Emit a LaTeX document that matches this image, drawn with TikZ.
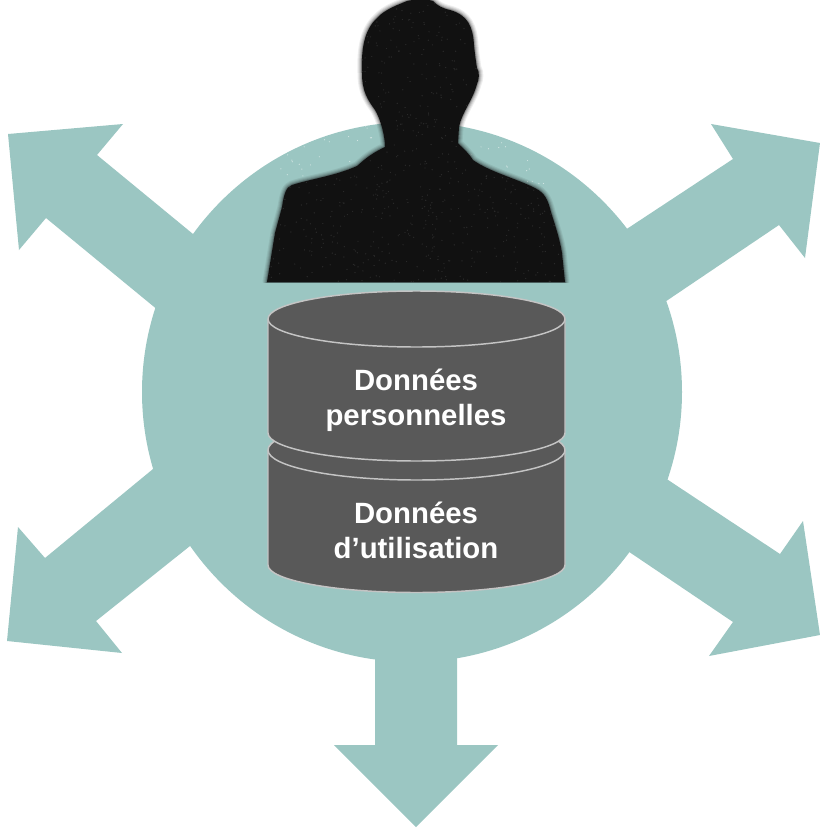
\documentclass[tikz,border=0pt]{standalone}
\usepackage{fontspec}
\setmainfont{Liberation Sans}
\definecolor{teal}{HTML}{9BC6C2}
\definecolor{cyl}{HTML}{595959}
\definecolor{rim}{HTML}{C4C4C4}
\definecolor{sil}{HTML}{111111}
\tikzset{
  bigarrow/.style={fill=teal,draw=none},
  cylbody/.style={fill=cyl,draw=rim,line width=1.1pt,line join=round},
  cyllabel/.style={text=white,font=\fontsize{22}{26.2}\selectfont\bfseries,align=center,inner sep=0pt},
}
\newcommand{\silpath}{(267,282) -- (275,233) -- (282,207) .. controls (284,194) and (286,187) .. (292,185)
 .. controls (310,179) and (335,176) .. (357,166) .. controls (362,162) and (368,155) .. (385,147)
 .. controls (385,135) and (380,118) .. (375,110) .. controls (368,100) and (362,92) .. (362,73)
 .. controls (361,50) and (364,30) .. (377,18) .. controls (385,9) and (400,4) .. (407,1)
 .. controls (415,-1) and (428,-1) .. (433,1) .. controls (438,6) and (442,8) .. (450,10) .. controls (468,15) and (473,27) .. (474,45)
 .. controls (475,55) and (476,62) .. (477,68) .. controls (480,72) and (479,80) .. (477,84)
 .. controls (473,100) and (462,112) .. (459,127) -- (458,143) .. controls (465,150) and (470,155) .. (473,160)
 .. controls (490,172) and (515,178) .. (535,188) .. controls (545,193) and (548,200) .. (551,212)
 .. controls (556,228) and (560,240) .. (562,253) -- (565,282) -- cycle}
\begin{document}
\begin{tikzpicture}[x=0.75pt,y=-0.75pt]
\useasboundingbox (0,0) rectangle (820,829);
% arrows
\fill[bigarrow] (97,155) -- (123,124) -- (8,134) -- (19,250) -- (46,218) -- (170,320) -- (210,250) -- (193,234) -- cycle;
\fill[bigarrow] (733,159) -- (711,124) -- (820,143) -- (805,258) -- (779,225) -- (650,312) -- (610,240) -- cycle;
\fill[bigarrow] (45,558) -- (18,527) -- (7,641) -- (122,653) -- (96,621) -- (210,530) -- (170,455) -- cycle;
\fill[bigarrow] (780,554) -- (803,521) -- (820,635) -- (709,656) -- (733,622) -- (610,539) -- (650,468) -- cycle;
\fill[bigarrow] (375,640) -- (375,745) -- (334,745) -- (416,827) -- (498,745) -- (457,745) -- (457,640) -- cycle;
\fill[teal] (412,392) circle[x radius=270,y radius=270];
% speckle of the photo's background over the circle
\pgfmathsetseed{7}
\begin{scope}
  \clip (412,392) circle[x radius=270,y radius=270];
  \foreach \i in {1,...,260}{
    \pgfmathsetmacro{\px}{270+290*rnd}
    \pgfmathsetmacro{\py}{120+160*rnd}
    \fill[white,opacity=0.55] (\px,\py) circle[radius=0.6];
  }
\end{scope}
% silhouette with a soft edge
\begin{scope}
  \clip (200,-5) rectangle (640,282);
  \foreach \w/\o in {9/0.07,7/0.09,5/0.12,3/0.16,1.5/0.22}{
    \draw[draw=sil,line width=\w*0.75pt,opacity=\o,line join=round] \silpath;
  }
  \fill[sil] \silpath;
\end{scope}
\begin{scope}
  \clip \silpath;
  \foreach \i in {1,...,900}{
    \pgfmathsetmacro{\px}{265+300*rnd}
    \pgfmathsetmacro{\py}{282*rnd}
    \fill[white,opacity=0.10] (\px,\py) circle[radius=0.7];
  }
\end{scope}
% cylinders
\draw[cylbody] (268,450) -- (268,565) arc[start angle=180,end angle=0,x radius=148.5,y radius=27.5] -- (565,450)
  arc[start angle=0,end angle=-180,x radius=148.5,y radius=30] -- cycle;
\draw[rim,line width=1.1pt] (268,450) arc[start angle=180,end angle=0,x radius=148.5,y radius=30];
\draw[cylbody] (268,319) -- (268,433) arc[start angle=180,end angle=0,x radius=148.5,y radius=28] -- (565,433) -- (565,319)
  arc[start angle=0,end angle=-180,x radius=148.5,y radius=28] -- cycle;
\draw[rim,line width=1.1pt] (268,319) arc[start angle=180,end angle=0,x radius=148.5,y radius=28];
\node[cyllabel] (perso) at (416,400.5) {Données\\personnelles};
\node[cyllabel] (usage) at (416,530) {Données\\d’utilisation};
\end{tikzpicture}
\end{document}
